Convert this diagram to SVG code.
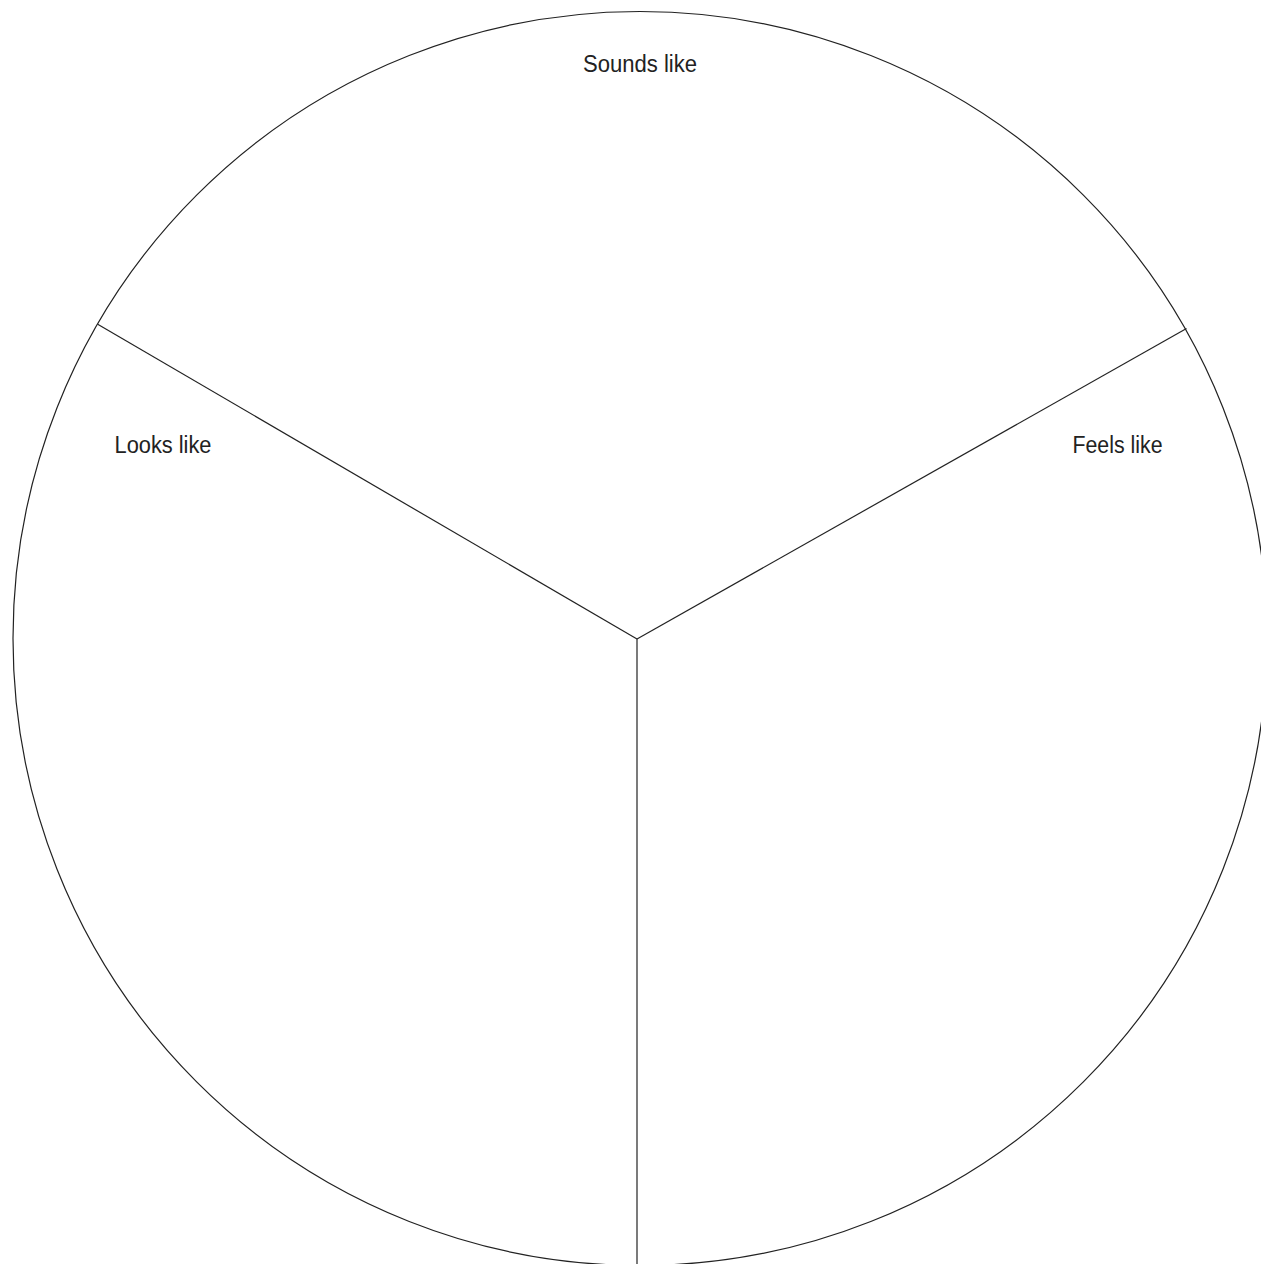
<svg xmlns="http://www.w3.org/2000/svg" width="1261" height="1264" viewBox="0 0 1261 1264">
<style>
.ln{fill:none;stroke:#222;stroke-width:1.2}
.lbl{font-family:"Liberation Sans",Arial,sans-serif;font-size:23px;fill:#222}
</style>
<rect width="1261" height="1264" fill="#fff"/>
<g id="circle"><circle class="ln" cx="640" cy="638.5" r="627"/></g>
<g id="connectors">
<line class="ln" x1="637" y1="639" x2="97.7" y2="324.3"/>
<line class="ln" x1="637" y1="639" x2="1186.5" y2="328.5"/>
<line class="ln" x1="637" y1="639" x2="637" y2="1264"/>
</g>
<g id="sounds"><text class="lbl" x="583" y="72" textLength="114" lengthAdjust="spacingAndGlyphs">Sounds like</text></g>
<g id="looks"><text class="lbl" x="114.5" y="453" textLength="97" lengthAdjust="spacingAndGlyphs">Looks like</text></g>
<g id="feels"><text class="lbl" x="1072.5" y="453" textLength="90" lengthAdjust="spacingAndGlyphs">Feels like</text></g>
</svg>
